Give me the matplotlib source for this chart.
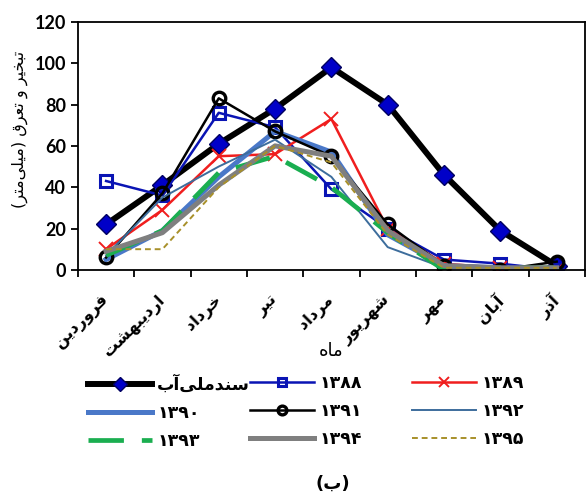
import numpy as np
import matplotlib
matplotlib.use("Agg")
import matplotlib.pyplot as plt
from matplotlib.ticker import FixedLocator, NullFormatter

# minimal Persian shaping (matplotlib does not join Arabic letters itself)
FORMS = {
    "\u0627": (0xFE8D, 0xFE8E), "\u0622": (0xFE81, 0xFE82),
    "\u0628": (0xFE8F, 0xFE90, 0xFE91, 0xFE92), "\u062A": (0xFE95, 0xFE96, 0xFE97, 0xFE98),
    "\u062E": (0xFEA5, 0xFEA6, 0xFEA7, 0xFEA8), "\u062F": (0xFEA9, 0xFEAA),
    "\u0630": (0xFEAB, 0xFEAC), "\u0631": (0xFEAD, 0xFEAE),
    "\u0633": (0xFEB1, 0xFEB2, 0xFEB3, 0xFEB4), "\u0634": (0xFEB5, 0xFEB6, 0xFEB7, 0xFEB8),
    "\u0639": (0xFEC9, 0xFECA, 0xFECB, 0xFECC), "\u0641": (0xFED1, 0xFED2, 0xFED3, 0xFED4),
    "\u0642": (0xFED5, 0xFED6, 0xFED7, 0xFED8), "\u0644": (0xFEDD, 0xFEDE, 0xFEDF, 0xFEE0),
    "\u0645": (0xFEE1, 0xFEE2, 0xFEE3, 0xFEE4), "\u0646": (0xFEE5, 0xFEE6, 0xFEE7, 0xFEE8),
    "\u0647": (0xFEE9, 0xFEEA, 0xFEEB, 0xFEEC), "\u0648": (0xFEED, 0xFEEE),
    "\u06CC": (0xFBFC, 0xFBFD, 0xFBFE, 0xFBFF),
}


def fa(text):
    if not any(c in FORMS for c in text):
        return text  # digits only: keep left-to-right
    out = []
    for i, c in enumerate(text):
        if c not in FORMS:
            out.append(c)
            continue
        f = FORMS[c]
        prev = text[i - 1] if i > 0 else None
        nxt = text[i + 1] if i + 1 < len(text) else None
        jp = prev in FORMS and len(FORMS[prev]) == 4
        jn = nxt in FORMS and len(f) == 4
        if jp and jn:
            out.append(chr(f[3]))
        elif jp:
            out.append(chr(f[1]))
        elif jn:
            out.append(chr(f[2]))
        else:
            out.append(chr(f[0]))
    s = "".join(out).replace("\u200c", "")[::-1]
    return s.translate(str.maketrans("()", ")("))


months = ["فروردین", "اردیبهشت", "خرداد", "تیر", "مرداد", "شهریور", "مهر", "آبان", "آذر"]

sanad = [22, 41, 61, 78, 98, 80, 46, 19, 2]
y1388 = [43, 36, 76, 69, 39, 20, 5, 3, 0]
y1389 = [10, 29, 55, 56, 73, 20, 3, 1, 0]
y1390 = [5, 19, 45, 67, 57, 17, 2, 1, 0]
y1391 = [6, 37, 83, 67, 55, 22, 2, 0, 4]
y1392 = [7, 35, 50, 63, 45, 11, 1, 1, 0]
y1393 = [7, 19, 47, 55, 40, 18, 0, 1, 1]
y1394 = [9, 18, 41, 60, 55, 19, 2, 1, 1]
y1395 = [10, 10, 40, 60, 52, 17, 1, 1, 1]

labels = ["سندملی\u200cآب", "۱۳۸۸", "۱۳۸۹", "۱۳۹۰", "۱۳۹۱", "۱۳۹۲", "۱۳۹۳", "۱۳۹۴", "۱۳۹۵"]

plt.rcParams['font.family'] = ['Lato', 'DejaVu Sans']
plt.rcParams['font.weight'] = 'bold'

fig = plt.figure(figsize=(5.86, 4.97), dpi=100)
ax = fig.add_axes([0.133, 0.457, 0.865, 0.499])

x = np.arange(len(months))
h = {}
h[0], = ax.plot(x, sanad, color="black", lw=4.3, marker="D", ms=10, mfc="#0000C8", mec="#000060", mew=1)
h[1], = ax.plot(x, y1388, color="#0A14B4", lw=1.8, marker="s", ms=9, mfc="none", mec="#0A14B4", mew=2.2)
h[2], = ax.plot(x, y1389, color="#F01E1E", lw=1.8, marker="x", ms=10, mew=1.4)
h[3], = ax.plot(x, y1390, color="#4A78C8", lw=3.6)
h[4], = ax.plot(x, y1391, color="black", lw=1.8, marker="o", ms=9, mfc="none", mec="black", mew=2.4)
h[5], = ax.plot(x, y1392, color="#3D6D9C", lw=1.4)
h[6], = ax.plot(x, y1393, color="#1AAE50", lw=3.4, ls=(0, (7.5, 3.8)))
h[7], = ax.plot(x, y1394, color="#7F7F7F", lw=3.6)
h[8], = ax.plot(x, y1395, color="#A8902A", lw=1.4, ls=(0, (3, 2)))

ax.set_xlim(-0.5, len(months) - 0.5)
ax.set_ylim(0, 120)
ax.set_yticks(range(0, 121, 20))
ax.xaxis.set_major_locator(FixedLocator(np.arange(-0.5, len(months), 1)))
ax.xaxis.set_major_formatter(NullFormatter())
ax.xaxis.set_minor_locator(FixedLocator(x))
ax.set_xticklabels([fa(m) for m in months], minor=True, rotation=45, ha="right", va="center",
                   rotation_mode="anchor", fontsize=11.5, family=['DejaVu Sans'])
ax.tick_params(axis="x", which="minor", length=0, pad=20)
ax.tick_params(axis="x", which="major", length=5, width=1.3, direction="out")
ax.tick_params(axis="y", length=5, width=1.3, direction="out", labelsize=13)
for s in ax.spines.values():
    s.set_linewidth(1.3)

ax.set_xlabel(fa("ماه"), fontsize=13, family=['DejaVu Sans'])
ax.xaxis.set_label_coords(0.5, -0.29)
ax.set_ylabel(fa("تبخیر و تعرق (میلی\u200cمتر)"), fontsize=11.5, family=['DejaVu Sans'])
ax.yaxis.set_label_coords(-0.098, 0.565)

# one legend per column, so each column sits where it does in the source
cols = [[0, 3, 6], [1, 4, 7], [2, 5, 8]]
col_x = [0.150, 0.427, 0.703]
for idx, cx in zip(cols, col_x):
    lg = fig.legend([h[i] for i in idx], [fa(labels[i]) for i in idx],
                    loc="upper left", bbox_to_anchor=(cx, 0.246), frameon=False,
                    prop={'family': ['Lato', 'DejaVu Sans'], 'size': 12.5, 'weight': 'bold'},
                    handlelength=3.7, handletextpad=0.3, labelspacing=0.7,
                    borderpad=0, borderaxespad=0, markerscale=0.7)

fig.text(0.568, 0.026, fa("(ب)"), ha="center", va="center", fontsize=13, family=['DejaVu Sans'])

fig.savefig("out.png", dpi=100)
